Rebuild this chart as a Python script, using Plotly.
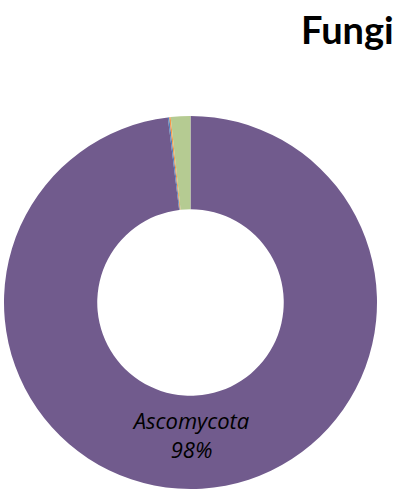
import plotly.graph_objects as go

labels = ["Ascomycota", "Chytridiomycota", "Zygomycota", "Basidiomycota"]
values = [98.06, 0.12, 0.12, 1.7]
colors = ["#715B8D", "#4F81BD", "#F79646", "#B5CB92"]
title_text = "Fungi"

W, H = 398, 491
fig = go.Figure()
fig.add_trace(go.Pie(
    labels=labels,
    values=values,
    hole=0.5,
    sort=False,
    direction="clockwise",
    rotation=0,
    marker=dict(colors=colors, line=dict(width=0)),
    texttemplate=["<i>%{label}</i><br><i>%{percent:.0%}</i>", "", "", ""],
    textposition="inside",
    insidetextorientation="horizontal",
    textfont=dict(family="Open Sans", size=22, color="black"),
    showlegend=False,
    domain=dict(x=[4 / W, 377 / W], y=[2 / H, 375 / H]),
))
fig.add_annotation(
    text="<b>" + title_text + "</b>", xref="paper", yref="paper",
    x=396 / W, y=1 - 29 / H, xanchor="right", yanchor="middle",
    showarrow=False, font=dict(family="Lato", size=38, color="black"),
)
fig.update_layout(
    width=W, height=H, margin=dict(l=0, r=0, t=0, b=0),
    paper_bgcolor="white", plot_bgcolor="white",
)
fig.write_html("out.html", config={"displayModeBar": False},
               post_script="document.body.style.margin='0';")
